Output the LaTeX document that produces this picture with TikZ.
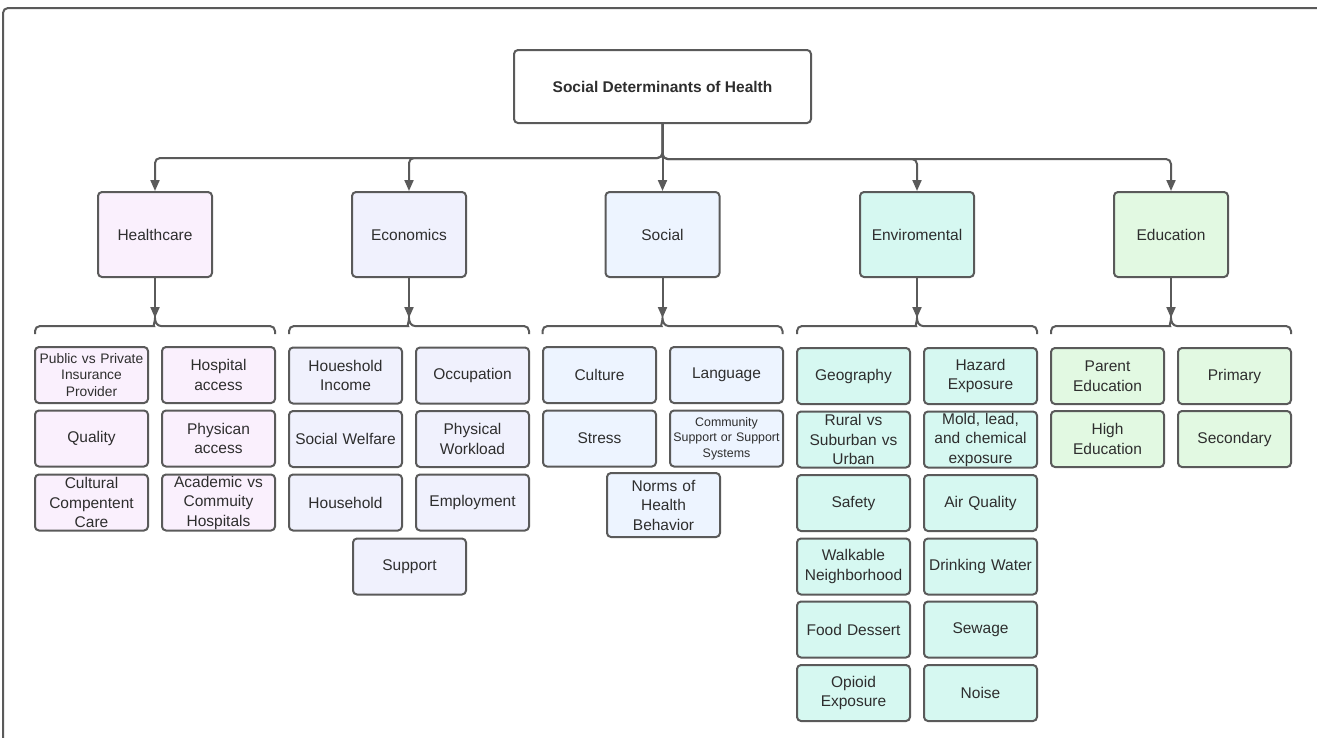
\documentclass[tikz,border=0pt]{standalone}
\usepackage{fontspec}
\setmainfont{Liberation Sans}
\usetikzlibrary{arrows.meta}
\definecolor{edgegray}{HTML}{5A5A5A}
\definecolor{txtgray}{HTML}{2E2E2E}
\definecolor{hcfill}{HTML}{FAF0FD}
\definecolor{ecfill}{HTML}{F0F1FD}
\definecolor{sofill}{HTML}{EDF4FF}
\definecolor{envfill}{HTML}{D6F8F1}
\definecolor{edfill}{HTML}{E2F9E2}
\tikzset{
  box/.style={draw=edgegray, line width=2pt, rounded corners=4pt, align=center,
    text=txtgray, inner xsep=2pt, inner ysep=0pt, font=\fontsize{15.5}{19.5}\selectfont},
  hubbox/.style={box, minimum width=297pt, minimum height=73pt, font=\bfseries\fontsize{15.5}{19}\selectfont},
  catbox/.style={box, minimum width=114pt, minimum height=85pt},
  itembox/.style={box, minimum width=113pt, minimum height=56pt, text width=109pt},
  smalltext/.style={font=\fontsize{13.8}{16.5}\selectfont},
  tinytext/.style={font=\fontsize{12.4}{15.5}\selectfont},
  link/.style={draw=edgegray, line width=2pt, rounded corners=5pt, -{Triangle[width=9pt,length=11pt]}},
  bracket/.style={draw=edgegray, line width=2pt}
}
\begin{document}
\begin{tikzpicture}[x=1pt, y=-1pt]
  \useasboundingbox (0,0) rectangle (1317,737);
  \clip (0,0) rectangle (1317,737);
  % Frame
  \draw[edgegray, line width=2pt, rounded corners=5pt] (3,8) rectangle (1345,765);

  % Top box
  \node[hubbox] (hub) at (662.5,86.5) {Social Determinants of Health};

  % Categories
  \node[catbox, fill=hcfill] (hc) at (155,234.5) {Healthcare};
  \node[catbox, fill=ecfill] (ec) at (409,234.5) {Economics};
  \node[catbox, fill=sofill] (so) at (662.5,234.5) {Social};
  \node[catbox, fill=envfill] (env) at (917,234.5) {Enviromental};
  \node[catbox, fill=edfill] (ed) at (1171,234.5) {Education};

  % Top connectors
  \draw[link] (hub.south) -- ++(0,34) -| (hc.north);
  \draw[link] (hub.south) -- ++(0,34) -| (ec.north);
  \draw[link] (hub.south) -- (so.north);
  \draw[link] (hub.south) -- ++(0,35) -| (env.north);
  \draw[link] (hub.south) -- ++(0,35) -| (ed.north);

  % Brace tips
  \coordinate (hctip) at (155,318);
  \coordinate (ectip) at (409,318);
  \coordinate (sotip) at (662.5,318);
  \coordinate (envtip) at (917,318);
  \coordinate (edtip) at (1171,318);

  % Braces
  \draw[bracket] (35,334) [rounded corners=5pt] |- (149,326) [sharp corners]
    to[out=0,in=-90] (hctip) to[out=-90,in=180] (161,326) [rounded corners=5pt] -| (275,334);
  \draw[bracket] (289,334) [rounded corners=5pt] |- (403,326) [sharp corners]
    to[out=0,in=-90] (ectip) to[out=-90,in=180] (415,326) [rounded corners=5pt] -| (529,334);
  \draw[bracket] (542.5,334) [rounded corners=5pt] |- (656.5,326) [sharp corners]
    to[out=0,in=-90] (sotip) to[out=-90,in=180] (668.5,326) [rounded corners=5pt] -| (782.5,334);
  \draw[bracket] (797,334) [rounded corners=5pt] |- (911,326) [sharp corners]
    to[out=0,in=-90] (envtip) to[out=-90,in=180] (923,326) [rounded corners=5pt] -| (1037,334);
  \draw[bracket] (1051,334) [rounded corners=5pt] |- (1165,326) [sharp corners]
    to[out=0,in=-90] (edtip) to[out=-90,in=180] (1177,326) [rounded corners=5pt] -| (1291,334);

  % Category to brace arrows
  \draw[link] (hc.south) -- (hctip);
  \draw[link] (ec.south) -- (ectip);
  \draw[link] (so.south) -- (sotip);
  \draw[link] (env.south) -- (envtip);
  \draw[link] (ed.south) -- (edtip);

  % Healthcare items
  \node[itembox, smalltext, fill=hcfill] (hc1) at (91.5,375) {Public vs Private\\Insurance\\Provider};
  \node[itembox, fill=hcfill] (hc2) at (218.5,375) {Hospital\\access};
  \node[itembox, fill=hcfill] (hc3) at (91.5,438.5) {Quality};
  \node[itembox, fill=hcfill] (hc4) at (218.5,438.5) {Physican\\access};
  \node[itembox, fill=hcfill] (hc5) at (91.5,502.5) {Cultural\\Compentent\\Care};
  \node[itembox, fill=hcfill] (hc6) at (218.5,502.5) {Academic vs\\Commuity\\Hospitals};

  % Economics items
  \node[itembox, fill=ecfill] (ec1) at (345.5,375.5) {Houeshold\\Income};
  \node[itembox, fill=ecfill] (ec2) at (472.5,375.5) {Occupation};
  \node[itembox, fill=ecfill] (ec3) at (345.5,439) {Social Welfare};
  \node[itembox, fill=ecfill] (ec4) at (472.5,439) {Physical\\Workload};
  \node[itembox, fill=ecfill] (ec5) at (345.5,502.5) {Household};
  \node[itembox, fill=ecfill] (ec6) at (472.5,502.5) {Employment};
  \node[itembox, fill=ecfill] (ec7) at (409.5,566.5) {Support};

  % Social items
  \node[itembox, fill=sofill] (so1) at (599.5,375) {Culture};
  \node[itembox, fill=sofill] (so2) at (726.5,375) {Language};
  \node[itembox, fill=sofill] (so3) at (599.5,438.5) {Stress};
  \node[itembox, tinytext, fill=sofill] (so4) at (726.5,438.5) {Community\\Support or Support\\Systems};
  \node[itembox, fill=sofill, minimum height=64pt] (so5) at (663.5,505) {Norms of\\Health\\Behavior};

  % Enviromental items
  \node[itembox, fill=envfill] (env1) at (853.5,376) {Geography};
  \node[itembox, fill=envfill] (env2) at (980.5,376) {Hazard\\Exposure};
  \node[itembox, fill=envfill] (env3) at (853.5,439.5) {Rural vs\\Suburban vs\\Urban};
  \node[itembox, fill=envfill] (env4) at (980.5,439.5) {Mold, lead,\\and chemical\\exposure};
  \node[itembox, fill=envfill] (env5) at (853.5,503) {Safety};
  \node[itembox, fill=envfill] (env6) at (980.5,503) {Air Quality};
  \node[itembox, fill=envfill] (env7) at (853.5,566.5) {Walkable\\Neighborhood};
  \node[itembox, fill=envfill] (env8) at (980.5,566.5) {Drinking Water};
  \node[itembox, fill=envfill] (env9) at (853.5,629.5) {Food Dessert};
  \node[itembox, fill=envfill] (env10) at (980.5,629.5) {Sewage};
  \node[itembox, fill=envfill] (env11) at (853.5,693) {Opioid\\Exposure};
  \node[itembox, fill=envfill] (env12) at (980.5,693) {Noise};

  % Education items
  \node[itembox, fill=edfill] (ed1) at (1107.5,376) {Parent\\Education};
  \node[itembox, fill=edfill] (ed2) at (1234.5,376) {Primary};
  \node[itembox, fill=edfill] (ed3) at (1107.5,439) {High\\Education};
  \node[itembox, fill=edfill] (ed4) at (1234.5,439) {Secondary};
\end{tikzpicture}
\end{document}
